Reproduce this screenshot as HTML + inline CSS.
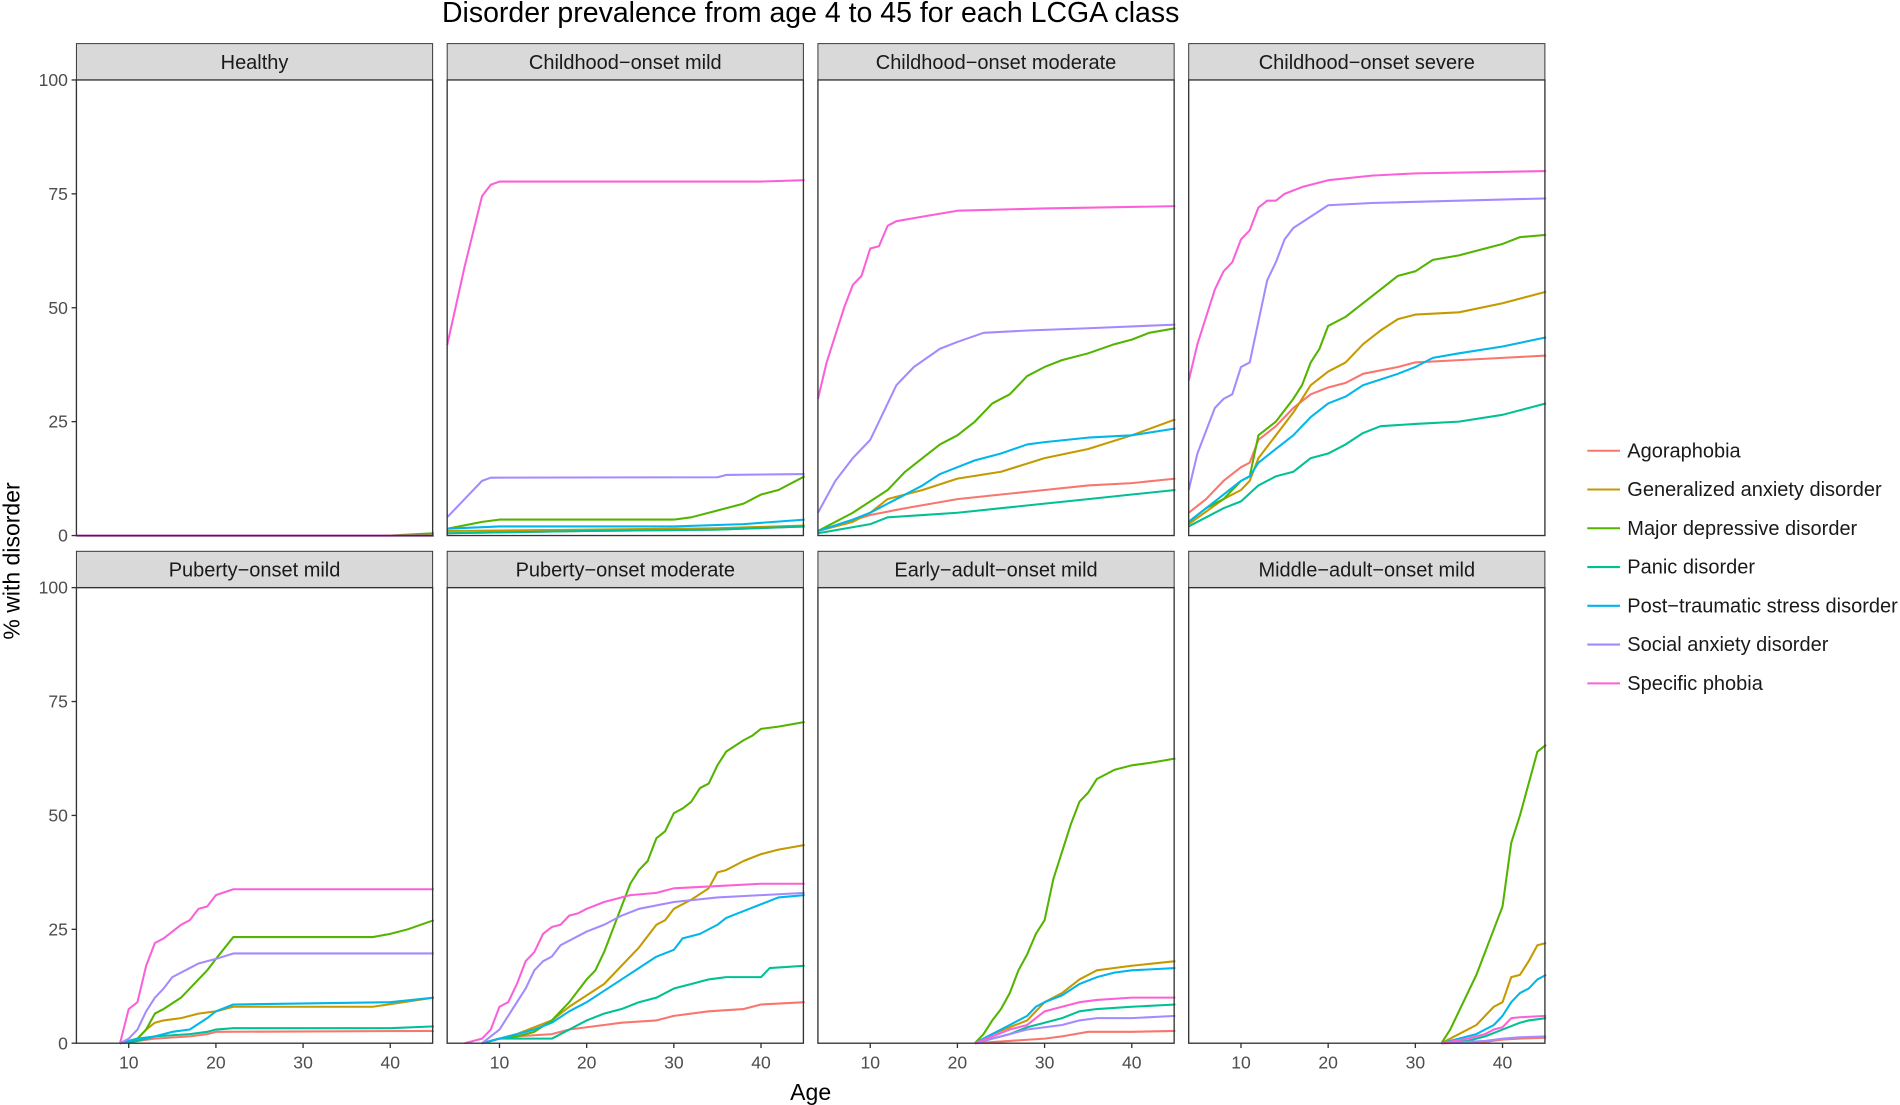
<!DOCTYPE html>
<html><head><meta charset="utf-8"><style>
html,body{margin:0;padding:0;background:#fff;}
svg{display:block;font-family:"Liberation Sans",sans-serif;}
</style></head><body>
<svg id="chart" width="1900" height="1105" viewBox="0 0 1568 912" xmlns="http://www.w3.org/2000/svg">
<text x="669" y="18" font-size="23.5" text-anchor="middle" fill="#000">Disorder prevalence from age 4 to 45 for each LCGA class</text>
<text x="669" y="908" font-size="19" text-anchor="middle" fill="#000">Age</text>
<text transform="translate(16,463) rotate(-90)" font-size="19" text-anchor="middle" fill="#000">% with disorder</text>
<g id="panels"></g>
<g id="legend"></g>
</svg>
<script>
const seriesNames = ["Agoraphobia","Generalized anxiety disorder","Major depressive disorder","Panic disorder","Post\u2212traumatic stress disorder","Social anxiety disorder","Specific phobia"];
const seriesColors = ["#F8766D","#C49A00","#53B400","#00C094","#00B6EB","#A58AFF","#FB61D7"];
const panelTitles = ["Healthy","Childhood\u2212onset mild","Childhood\u2212onset moderate","Childhood\u2212onset severe","Puberty\u2212onset mild","Puberty\u2212onset moderate","Early\u2212adult\u2212onset mild","Middle\u2212adult\u2212onset mild"];
const xTicks = [10,20,30,40];
const yTicks = [0,25,50,75,100];

// Healthy
const h_ag=[[4,0],[45,0]], h_gad=[[4,0],[45,0]], h_mdd=[[4,0],[40,0],[45,0.5]], h_pan=[[4,0],[45,0]], h_ptsd=[[4,0],[45,0]], h_soc=[[4,0],[45,0]], h_sp=[[4,0],[45,0]];
// Childhood-onset mild
const cm_ag=[[4,0.5],[20,1],[35,1.3],[45,2]];
const cm_gad=[[4,1],[20,1.3],[35,1.6],[45,2.2]];
const cm_mdd=[[4,1.5],[8,3],[10,3.5],[30,3.5],[32,4],[35,5.5],[38,7],[40,9],[42,10],[45,13]];
const cm_pan=[[4,0.5],[20,1],[35,1.3],[45,2]];
const cm_ptsd=[[4,1.5],[10,2],[30,2],[38,2.5],[45,3.5]];
const cm_soc=[[4,4],[6,8],[8,12],[9,12.7],[35,12.8],[36,13.3],[45,13.5]];
const cm_sp=[[4,41.8],[6,59],[8,74.5],[9,77],[10,77.7],[40,77.7],[45,78]];
// Childhood-onset moderate
const cmo_ag=[[4,1],[10,4.5],[14,6],[20,8],[25,9],[30,10],[35,11],[40,11.5],[45,12.5]];
const cmo_gad=[[4,1],[8,3],[10,5],[12,8],[14,9],[16,10],[20,12.5],[25,14],[30,17],[35,19],[40,22],[45,25.5]];
const cmo_mdd=[[4,1],[8,5],[10,7.5],[12,10],[14,14],[16,17],[18,20],[20,22],[22,25],[24,29],[26,31],[28,35],[30,37],[32,38.5],[35,40],[38,42],[40,43],[42,44.5],[45,45.5]];
const cmo_pan=[[4,0.5],[10,2.5],[12,4],[16,4.5],[20,5],[25,6],[30,7],[35,8],[40,9],[45,10]];
const cmo_ptsd=[[4,1],[8,3.5],[10,5],[12,7],[14,9],[16,11],[18,13.5],[20,15],[22,16.5],[25,18],[28,20],[30,20.5],[35,21.5],[40,22],[45,23.5]];
const cmo_soc=[[4,5],[6,12],[8,17],[10,21],[11,25],[12,29],[13,33],[15,37],[18,41],[20,42.5],[23,44.5],[28,45],[35,45.5],[45,46.3]];
const cmo_sp=[[4,30],[5,38],[6,44],[7,50],[8,55],[9,57],[10,63],[11,63.5],[12,68],[13,69],[16,70],[20,71.3],[30,71.8],[45,72.3]];
// Childhood-onset severe
const cs_ag=[[4,5],[6,8],[8,12],[10,15],[11,16],[12,21],[14,24],[16,28],[18,31],[20,32.5],[22,33.5],[24,35.5],[28,37],[30,38],[35,38.5],[40,39],[45,39.5]];
const cs_gad=[[4,2.5],[8,8],[10,10],[11,12],[12,17],[14,22],[16,27],[18,33],[20,36],[22,38],[24,42],[26,45],[28,47.5],[30,48.5],[35,49],[40,51],[45,53.5]];
const cs_mdd=[[4,3],[6,6],[8,8],[10,12],[11,13],[12,22],[14,25],[16,30],[17,33],[18,38],[19,41],[20,46],[22,48],[24,51],[26,54],[28,57],[30,58],[32,60.5],[35,61.5],[38,63],[40,64],[42,65.5],[45,66]];
const cs_pan=[[4,2],[8,6],[10,7.5],[12,11],[14,13],[16,14],[18,17],[20,18],[22,20],[24,22.5],[26,24],[30,24.5],[35,25],[40,26.5],[45,29]];
const cs_ptsd=[[4,3],[8,9],[10,12],[11,13],[12,16],[14,19],[16,22],[18,26],[20,29],[22,30.5],[24,33],[28,35.5],[30,37],[32,39],[35,40],[40,41.5],[45,43.5]];
const cs_soc=[[4,10],[5,18],[6,23],[7,28],[8,30],[9,31],[10,37],[11,38],[12,47],[13,56],[14,60],[15,65],[16,67.5],[18,70],[20,72.5],[25,73],[45,74]];
const cs_sp=[[4,34],[5,42],[6,48],[7,54],[8,58],[9,60],[10,65],[11,67],[12,72],[13,73.5],[14,73.5],[15,75],[17,76.5],[20,78],[25,79],[30,79.5],[45,80]];
// Puberty-onset mild
const pm_ag=[[9,0],[11,0.5],[13,1],[17,1.5],[19,2],[20,2.5],[45,2.7]];
const pm_gad=[[9,0],[11,1],[12,3],[13,4.5],[14,5],[16,5.5],[18,6.5],[20,7],[22,8],[38,8],[45,10]];
const pm_mdd=[[9,0],[11,1],[12,3],[13,6.5],[14,7.5],[16,10],[18,14],[19,16],[20,18.5],[22,23.3],[38,23.3],[40,24],[42,25],[45,27]];
const pm_pan=[[9,0],[11,0.5],[13,1.5],[17,2],[19,2.5],[20,3],[22,3.3],[40,3.3],[45,3.7]];
const pm_ptsd=[[9,0],[11,1],[13,1.5],[15,2.5],[17,3],[19,5.5],[20,7],[22,8.5],[40,9],[45,10]];
const pm_soc=[[9,0],[10,1],[11,3],[12,7],[13,10],[14,12],[15,14.5],[17,16.5],[18,17.5],[20,18.5],[22,19.7],[45,19.7]];
const pm_sp=[[9,0],[10,7.5],[11,9],[12,17],[13,22],[14,23],[16,26],[17,27],[18,29.5],[19,30],[20,32.5],[22,33.8],[45,33.8]];
// Puberty-onset moderate
const pmo_ag=[[8,0],[10,1],[12,1.5],[16,2],[18,3],[20,3.5],[22,4],[24,4.5],[28,5],[30,6],[34,7],[38,7.5],[40,8.5],[45,9]];
const pmo_gad=[[8,0],[10,1],[12,2],[14,3.5],[16,5],[18,8],[20,10.5],[22,13],[24,17],[26,21],[28,26],[29,27],[30,29.5],[32,31.5],[34,34],[35,37.5],[36,38],[38,40],[40,41.5],[42,42.5],[45,43.5]];
const pmo_mdd=[[8,0],[10,1],[12,1.5],[14,2.5],[16,5],[17,7],[18,9],[20,14],[21,16],[22,20],[23,25],[24,30],[25,35],[26,38],[27,40],[28,45],[29,46.5],[30,50.5],[31,51.5],[32,53],[33,56],[34,57],[35,61],[36,64],[38,66.5],[39,67.5],[40,69],[42,69.5],[45,70.5]];
const pmo_pan=[[8,0],[10,1],[12,1],[16,1],[18,3],[20,5],[22,6.5],[24,7.5],[26,9],[28,10],[30,12],[32,13],[34,14],[36,14.5],[40,14.5],[41,16.5],[45,17]];
const pmo_ptsd=[[8,0],[10,1],[12,2],[14,3],[16,4.5],[18,7],[20,9],[22,11.5],[24,14],[26,16.5],[28,19],[30,20.5],[31,23],[33,24],[35,26],[36,27.5],[38,29],[40,30.5],[42,32],[45,32.5]];
const pmo_soc=[[8,0],[10,3],[12,9],[13,12],[14,16],[15,18],[16,19],[17,21.5],[18,22.5],[20,24.5],[22,26],[24,28],[26,29.5],[30,31],[35,32],[40,32.5],[45,33]];
const pmo_sp=[[6,0],[8,1],[9,3],[10,8],[11,9],[12,13],[13,18],[14,20],[15,24],[16,25.5],[17,26],[18,28],[19,28.5],[20,29.5],[22,31],[25,32.5],[28,33],[30,34],[35,34.5],[40,35],[45,35]];
// Early-adult-onset mild
const ea_ag=[[22,0],[26,0.5],[30,1],[32,1.5],[35,2.5],[40,2.5],[45,2.7]];
const ea_gad=[[22,0],[24,2],[26,3.5],[28,5],[30,9],[32,11],[34,14],[36,16],[38,16.5],[40,17],[45,18]];
const ea_mdd=[[22,0],[23,2],[24,5],[25,7.5],[26,11],[27,16],[28,19.5],[29,24],[30,27],[31,36],[32,42],[33,48],[34,53],[35,55],[36,58],[38,60],[40,61],[42,61.5],[45,62.5]];
const ea_pan=[[22,0],[24,1],[26,2],[28,3.5],[30,4.5],[32,5.5],[34,7],[36,7.5],[40,8],[45,8.5]];
const ea_ptsd=[[22,0],[24,2],[26,4],[28,6],[29,8],[30,9],[32,10.5],[34,13],[36,14.5],[38,15.5],[40,16],[45,16.5]];
const ea_soc=[[22,0],[24,1],[26,2],[28,3],[30,3.5],[32,4],[34,5],[36,5.5],[40,5.5],[45,6]];
const ea_sp=[[22,0],[24,1.5],[26,3],[28,4],[30,7],[32,8],[34,9],[36,9.5],[40,10],[45,10]];
// Middle-adult-onset mild
const ma_ag=[[33,0],[38,0.3],[40,0.8],[42,1],[45,1.2]];
const ma_gad=[[33,0],[35,2],[37,4],[38,6],[39,8],[40,9],[41,14.5],[42,15],[43,18],[44,21.5],[45,22]];
const ma_mdd=[[33,0],[34,3],[35,7],[36,11],[37,15],[38,20],[39,25],[40,30],[41,44],[42,50],[43,57],[44,64],[45,65.5]];
const ma_pan=[[33,0],[36,0.5],[38,1.5],[40,3],[42,4.5],[43,5],[45,5.5]];
const ma_ptsd=[[33,0],[35,1],[37,2],[39,4],[40,6],[41,9],[42,11],[43,12],[44,14],[45,15]];
const ma_soc=[[33,0],[38,0.5],[40,1],[42,1.3],[45,1.5]];
const ma_sp=[[33,0],[36,1],[38,2],[39,3],[40,3.5],[41,5.5],[42,5.7],[45,6]];

const panelSeries = [
 [h_ag,h_gad,h_mdd,h_pan,h_ptsd,h_soc,h_sp],
 [cm_ag,cm_gad,cm_mdd,cm_pan,cm_ptsd,cm_soc,cm_sp],
 [cmo_ag,cmo_gad,cmo_mdd,cmo_pan,cmo_ptsd,cmo_soc,cmo_sp],
 [cs_ag,cs_gad,cs_mdd,cs_pan,cs_ptsd,cs_soc,cs_sp],
 [pm_ag,pm_gad,pm_mdd,pm_pan,pm_ptsd,pm_soc,pm_sp],
 [pmo_ag,pmo_gad,pmo_mdd,pmo_pan,pmo_ptsd,pmo_soc,pmo_sp],
 [ea_ag,ea_gad,ea_mdd,ea_pan,ea_ptsd,ea_soc,ea_sp],
 [ma_ag,ma_gad,ma_mdd,ma_pan,ma_ptsd,ma_soc,ma_sp]
];

const NS="http://www.w3.org/2000/svg";
const colX=[63,369,675,981], PW=294;
const rowStrip=[36,455], rowTop=[66,485], PH=376;
function mk(tag,attrs,parent){const e=document.createElementNS(NS,tag);for(const k in attrs)e.setAttribute(k,attrs[k]);parent.appendChild(e);return e;}
const root=document.getElementById('panels');
panelTitles.forEach((title,i)=>{
  const c=i%4, r=Math.floor(i/4);
  const x0=colX[c], y0=rowTop[r];
  const xs=a=>x0+(a-4)*(PW+1)/41;
  const ys=v=>y0+PH-v*PH/100;
  const g=mk('g',{},root);
  
  
  const strip=mk('rect',{x:x0,y:rowStrip[r],width:PW,height:30,fill:'#D9D9D9',stroke:'#333','stroke-width':0.8},g);
  
  
  const st=mk('text',{x:x0+PW/2,y:rowStrip[r]+21,'font-size':16.5,'text-anchor':'middle',fill:'#1a1a1a'},g);
  st.textContent=title;
  
  
  panelSeries[i].forEach((pts,s)=>{
    const d=pts.map((p,k)=>(k?'L':'M')+xs(p[0]).toFixed(2)+','+ys(p[1]).toFixed(2)).join('');
    const l=mk('path',{d:d,fill:'none',stroke:seriesColors[s],'stroke-width':1.7,'stroke-linejoin':'round'},g);
    
    
  });
  const bd=mk('rect',{x:x0,y:y0,width:PW,height:PH,fill:'none',stroke:'#333','stroke-width':1.1},g);
  
  
  if(c===0){
    yTicks.forEach(t=>{
      mk('line',{x1:x0-4,x2:x0,y1:ys(t),y2:ys(t),stroke:'#333','stroke-width':1.1},g);
      const tt=mk('text',{x:x0-7,y:ys(t)+5,'font-size':14.5,'text-anchor':'end',fill:'#4d4d4d'},g);
      tt.textContent=t;
      
      
    });
  }
  if(r===1){
    xTicks.forEach(t=>{
      mk('line',{x1:xs(t),x2:xs(t),y1:y0+PH,y2:y0+PH+4,stroke:'#333','stroke-width':1.1},g);
      const tt=mk('text',{x:xs(t),y:y0+PH+21,'font-size':14.5,'text-anchor':'middle',fill:'#4d4d4d'},g);
      tt.textContent=t;
      
      
    });
  }
});
const lg=document.getElementById('legend');
seriesNames.forEach((n,s)=>{
  const y=372+s*32;
  const e=mk('g',{},lg);
  
  
  mk('line',{x1:1310,x2:1337,y1:y,y2:y,stroke:seriesColors[s],'stroke-width':1.7},e);
  const t=mk('text',{x:1343,y:y+5.5,'font-size':16.5,fill:'#1a1a1a'},e);
  t.textContent=n;
});
</script>
</body></html>
